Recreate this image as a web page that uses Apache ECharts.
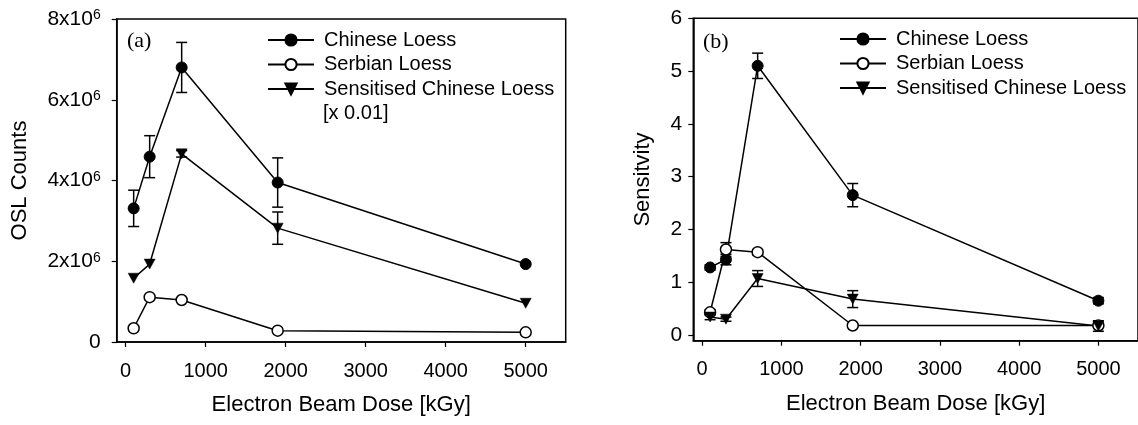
<!DOCTYPE html>
<html><head><meta charset="utf-8">
<script src="https://cdn.jsdelivr.net/npm/echarts@6/dist/echarts.min.js"></script>
<style>html,body{margin:0;padding:0;background:#fff}#c{width:1138px;height:425px}</style>
</head><body><div id="c"></div>
<script>
// ---------- data ----------
const doses = [100, 300, 700, 1900, 5000];
const xTicks = [0, 1000, 2000, 3000, 4000, 5000];
const oslTicks = [0, 2e6, 4e6, 6e6, 8e6];
const sensTicks = [0, 1, 2, 3, 4, 5, 6];
const seriesNames = ['Chinese Loess', 'Serbian Loess', 'Sensitised Chinese Loess'];

// panel (a): OSL counts
const oslChinese = [3.31e6, 4.59e6, 6.80e6, 3.95e6, 1.93e6];
const oslChineseErr = [0.45e6, 0.52e6, 0.62e6, 0.61e6, 0];
const oslSerbian = [0.34e6, 1.11e6, 1.04e6, 0.28e6, 0.24e6];
const oslSerbianErr = [0, 0, 0, 0, 0];
const oslSensitised = [1.58e6, 1.93e6, 4.66e6, 2.82e6, 0.96e6];
const oslSensitisedErr = [0, 0, 0.08e6, 0.40e6, 0];

// panel (b): sensitivity
const sensChinese = [1.28, 1.43, 5.10, 2.65, 0.65];
const sensChineseErr = [0.05, 0.10, 0.24, 0.22, 0.06];
const sensSerbian = [0.43, 1.62, 1.57, 0.18, 0.18];
const sensSerbianErr = [0.05, 0.13, 0.05, 0.03, 0.03];
const sensSensitised = [0.34, 0.30, 1.07, 0.68, 0.17];
const sensSensitisedErr = [0.05, 0.04, 0.15, 0.16, 0.10];

// ---------- chart ----------
const FONT = '"Liberation Sans", Arial, sans-serif';
const SERIF = '"Liberation Serif", "Times New Roman", serif';
const TRI = 'path://M0,0 L10,0 L5,9 Z';

const styles = [
  { symbol: 'circle', symbolSize: 11, itemStyle: { color: '#000', borderColor: '#000', borderWidth: 1 } },
  { symbol: 'circle', symbolSize: 11, itemStyle: { color: '#fff', borderColor: '#000', borderWidth: 1.5 } },
  { symbol: TRI, symbolSize: [11, 10], itemStyle: { color: '#000', borderColor: '#000', borderWidth: 0.5 } }
];

function pairs(vals) { return doses.map((d, i) => [d, vals[i]]); }
function errs(vals, e) { return doses.map((d, i) => [d, vals[i] - e[i], vals[i] + e[i]]); }

function lineSeries(idx, name, vals, g) {
  return Object.assign({
    type: 'line', name: name, xAxisIndex: g, yAxisIndex: g,
    data: pairs(vals), z: 3,
    lineStyle: { color: '#000', width: 1.5 },
    emphasis: { disabled: true }, animation: false
  }, styles[idx]);
}

function errSeries(vals, e, g) {
  return {
    type: 'custom', name: 'err' + g, xAxisIndex: g, yAxisIndex: g, z: 2,
    data: errs(vals, e), animation: false, silent: true,
    renderItem: function (params, api) {
      const x = api.value(0);
      if (api.value(1) === api.value(2)) return null;
      const lo = api.coord([x, api.value(1)]);
      const hi = api.coord([x, api.value(2)]);
      const w = 5.5;
      const st = { stroke: '#000', lineWidth: 1.5 };
      return { type: 'group', children: [
        { type: 'line', shape: { x1: lo[0], y1: lo[1], x2: hi[0], y2: hi[1] }, style: st },
        { type: 'line', shape: { x1: lo[0] - w, y1: lo[1], x2: lo[0] + w, y2: lo[1] }, style: st },
        { type: 'line', shape: { x1: hi[0] - w, y1: hi[1], x2: hi[0] + w, y2: hi[1] }, style: st }
      ]};
    }
  };
}

const axisLineStyle = { show: true, onZero: false, lineStyle: { color: '#000', width: 1.5 } };

function xAxis(g) {
  return {
    type: 'value', gridIndex: g, min: -112, max: 5500,
    axisLine: axisLineStyle,
    axisTick: { show: true, length: 5, inside: false, lineStyle: { color: '#000', width: 1.2 }, customValues: xTicks },
    axisLabel: { customValues: xTicks, margin: 19, color: '#000', fontSize: 20, fontFamily: FONT,
      formatter: function (v) { return String(v); } },
    splitLine: { show: false },
    name: 'Electron Beam Dose [kGy]', nameLocation: 'middle', nameGap: 52,
    nameTextStyle: { color: '#000', fontSize: 22, fontFamily: FONT }
  };
}

const option = {
  animation: false,
  backgroundColor: '#fff',
  grid: [
    { left: 116.7, top: 19, width: 449, height: 323, show: true, borderColor: '#000', borderWidth: 1.5, backgroundColor: 'transparent' },
    { left: 693.3, top: 18.3, width: 450, height: 322.4, show: true, borderColor: '#000', borderWidth: 1.5, backgroundColor: 'transparent' }
  ],
  xAxis: [xAxis(0), xAxis(1)],
  yAxis: [
    {
      type: 'value', gridIndex: 0, min: 0, max: 8e6,
      axisLine: axisLineStyle,
      axisTick: { show: true, length: 5, lineStyle: { color: '#000', width: 1.2 }, customValues: oslTicks },
      axisLabel: {
        customValues: oslTicks, margin: 16, color: '#000',
        formatter: function (v) { return v === 0 ? '{b|0}' : '{b|' + (v / 1e6) + 'x10}{s|6}'; },
        rich: {
          b: { fontSize: 21, fontFamily: FONT, color: '#000', lineHeight: 21 },
          s: { fontSize: 14, fontFamily: FONT, color: '#000', verticalAlign: 'top', lineHeight: 14 }
        }
      },
      splitLine: { show: false },
      name: 'OSL Counts', nameLocation: 'middle', nameGap: 86,
      nameTextStyle: { color: '#000', fontSize: 22, fontFamily: FONT }
    },
    {
      type: 'value', gridIndex: 1, min: -0.108, max: 6,
      axisLine: axisLineStyle,
      axisTick: { show: true, length: 5, lineStyle: { color: '#000', width: 1.2 }, customValues: sensTicks },
      axisLabel: { customValues: sensTicks, margin: 11, color: '#000', fontSize: 21, fontFamily: FONT },
      splitLine: { show: false },
      name: 'Sensitvity', nameLocation: 'middle', nameGap: 39,
      nameTextStyle: { color: '#000', fontSize: 22, fontFamily: FONT }
    }
  ],
  legend: [
    { data: seriesNames, orient: 'vertical', left: 267, top: 30, itemWidth: 46, itemHeight: 14, itemGap: 4.5,
      padding: 0, selectedMode: false,
      textStyle: { color: '#000', fontSize: 20, fontFamily: FONT, lineHeight: 20, padding: [0, 0, 0, 5] } },
    { data: seriesNames, orient: 'vertical', left: 839, top: 29, itemWidth: 46, itemHeight: 14, itemGap: 4.5,
      padding: 0, selectedMode: false,
      textStyle: { color: '#000', fontSize: 20, fontFamily: FONT, lineHeight: 20, padding: [0, 0, 0, 5] } }
  ],
  graphic: [
    { type: 'text', left: 127, top: 30, style: { text: '(a)', font: '22px ' + SERIF, fill: '#000' } },
    { type: 'text', left: 703, top: 31, style: { text: '(b)', font: '22px ' + SERIF, fill: '#000' } },
    { type: 'text', left: 323, top: 103, style: { text: '[x 0.01]', font: '20px ' + FONT, fill: '#000' } }
  ],
  series: [
    errSeries(oslChinese, oslChineseErr, 0),
    errSeries(oslSerbian, oslSerbianErr, 0),
    errSeries(oslSensitised, oslSensitisedErr, 0),
    lineSeries(0, seriesNames[0], oslChinese, 0),
    lineSeries(1, seriesNames[1], oslSerbian, 0),
    lineSeries(2, seriesNames[2], oslSensitised, 0),
    errSeries(sensChinese, sensChineseErr, 1),
    errSeries(sensSerbian, sensSerbianErr, 1),
    errSeries(sensSensitised, sensSensitisedErr, 1),
    lineSeries(0, seriesNames[0], sensChinese, 1),
    lineSeries(1, seriesNames[1], sensSerbian, 1),
    lineSeries(2, seriesNames[2], sensSensitised, 1)
  ]
};

const chart = echarts.init(document.getElementById('c'), null, { renderer: 'canvas' });
chart.setOption(option);
</script>
</body></html>
